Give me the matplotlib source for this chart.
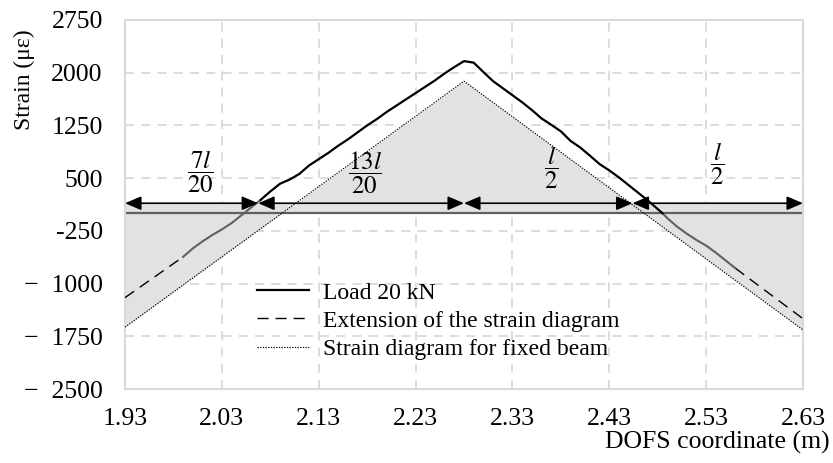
import matplotlib
matplotlib.use("Agg")
import matplotlib.pyplot as plt
import numpy as np

# ---------------- data ----------------
# Load 20 kN - measured (solid black, positive part)
load_x = [2.07, 2.08, 2.09, 2.10, 2.11, 2.12, 2.13, 2.14, 2.15, 2.16, 2.17, 2.18,
          2.19, 2.20, 2.21, 2.22, 2.23, 2.24, 2.25, 2.26, 2.27, 2.28, 2.29, 2.30,
          2.31, 2.32, 2.33, 2.34, 2.35, 2.36, 2.37, 2.38, 2.39, 2.40, 2.41, 2.42,
          2.43, 2.44, 2.45, 2.46, 2.47, 2.48, 2.485]
load_y = [190, 310, 420, 480, 560, 680, 770, 860, 960, 1050, 1150, 1250,
          1340, 1440, 1530, 1620, 1710, 1800, 1890, 1990, 2080, 2165, 2143, 2010,
          1880, 1780, 1680, 1580, 1470, 1350, 1260, 1166, 1030, 936, 820, 700,
          610, 510, 400, 290, 180, 60, 0]
# Load 20 kN - negative parts (solid gray)
left_gray_x = [1.99, 2.00, 2.01, 2.02, 2.03, 2.04, 2.05, 2.06, 2.07]
left_gray_y = [-620, -500, -400, -310, -230, -140, -30, 80, 190]
right_gray_x = [2.485, 2.49, 2.50, 2.51, 2.52, 2.53, 2.54, 2.55, 2.56]
right_gray_y = [0, -70, -190, -290, -380, -460, -560, -670, -780]
# Extension of the strain diagram (dashed)
ext_left_x = [1.93, 1.99]
ext_left_y = [-1200, -620]
ext_right_x = [2.56, 2.63]
ext_right_y = [-780, -1500]
# Strain diagram for fixed beam (dotted)
fixed_x = [1.93, 2.28, 2.63]
fixed_y = [-1620, 1880, -1660]

# dimension arrows
arrow_bounds = [1.93, 2.0675, 2.28, 2.454, 2.63]
arrow_level = 143
frac_labels = [r'$\dfrac{7l}{20}$', r'$\dfrac{13l}{20}$', r'$\dfrac{l}{2}$', r'$\dfrac{l}{2}$']
frac_x = [2.0076, 2.178, 2.370, 2.541]
frac_y = [590, 575, 647, 714]

xticks = [1.93, 2.03, 2.13, 2.23, 2.33, 2.43, 2.53, 2.63]
xtick_labels = ['1.93', '2.03', '2.13', '2.23', '2.33', '2.43', '2.53', '2.63']
yticks = [-2500, -1750, -1000, -250, 500, 1250, 2000, 2750]
ytick_labels = ['\u2212  2500', '\u2212  1750', '\u2212  1000', '-250', '500', '1250', '2000', '2750']

# ---------------- style ----------------
plt.rcParams['font.family'] = ['Liberation Serif', 'DejaVu Serif']
plt.rcParams['mathtext.fontset'] = 'stix'
FS_TICK = 18.5
FS_LEG = 17
W, H = 833, 463
fig = plt.figure(figsize=(W / 100, H / 100), dpi=100)
ax = fig.add_axes([125 / W, 1 - 389 / H, (803 - 125) / W, (389 - 20) / H])

grid_c = '#d9d9d9'
fill_c = '#e2e2e2'
gray_line = '#606060'

ax.set_xlim(1.93, 2.63)
ax.set_ylim(-2500, 2750)

# fill between fixed-beam diagram and zero
fx = np.array(fixed_x)
fy = np.array(fixed_y)
ax.fill_between(fx, 0, fy, color=fill_c, lw=0, zorder=1)
ax.axhspan(0, arrow_level, color=fill_c, lw=0, zorder=1)

# grid
ax.set_xticks(xticks)
ax.set_xticklabels(xtick_labels, fontsize=FS_TICK)
ax.set_yticks(yticks)
ax.set_yticklabels(ytick_labels, fontsize=FS_TICK)
ax.grid(True, color=grid_c, lw=1.3, ls=(0, (5, 4)), zorder=0)
ax.set_axisbelow(True)
ax.tick_params(length=0)
ax.tick_params(axis='x', pad=14)
ax.tick_params(axis='y', pad=16)
for s in ax.spines.values():
    s.set_color(grid_c)
    s.set_linewidth(1.5)

# zero line
ax.axhline(0, color=gray_line, lw=1.6, zorder=2)

# curves
ax.plot(fixed_x, fixed_y, color='black', lw=0.8, ls=(0, (1.2, 1.2)), zorder=3,
        label='Strain diagram for fixed beam')
ax.plot(ext_left_x, ext_left_y, color='black', lw=1.0, ls=(0, (8, 5)), zorder=3,
        label='Extension of the strain diagram')
ax.plot(ext_right_x, ext_right_y, color='black', lw=1.0, ls=(0, (8, 5)), zorder=3)
ax.plot(left_gray_x, left_gray_y, color=gray_line, lw=1.5, zorder=3)
ax.plot(right_gray_x, right_gray_y, color=gray_line, lw=1.5, zorder=3)
ax.plot(load_x, load_y, color='black', lw=1.6, zorder=4, label='Load 20 kN')

# dimension arrows
for a, b in zip(arrow_bounds[:-1], arrow_bounds[1:]):
    ax.annotate('', xy=(b, arrow_level), xytext=(a, arrow_level),
                arrowprops=dict(arrowstyle='<|-|>,head_length=0.7,head_width=0.3',
                                color='black', lw=1.2, mutation_scale=14,
                                shrinkA=0, shrinkB=0), zorder=5)
for t, x, y in zip(frac_labels, frac_x, frac_y):
    ax.text(x, y, t, fontsize=18, ha='center', va='center', zorder=6)

# legend
handles, labels = ax.get_legend_handles_labels()
order = [2, 1, 0]
leg = ax.legend([handles[i] for i in order], [labels[i] for i in order],
                loc='upper left', bbox_to_anchor=(257 / W, 1 - 282 / H),
                bbox_transform=fig.transFigure, frameon=False, fontsize=FS_LEG,
                handlelength=2.2, handletextpad=0.6, labelspacing=0.28,
                borderpad=0, borderaxespad=0)

# axis labels
fig.text(24 / W, 1 - 80 / H, 'Strain (\u03bc\u03b5)', rotation=90, ha='center',
         va='center', fontsize=17)
fig.text(830 / W, 1 - 442 / H, 'DOFS coordinate (m)', ha='right', va='center',
         fontsize=18.5)

fig.savefig('out.png', dpi=100)
